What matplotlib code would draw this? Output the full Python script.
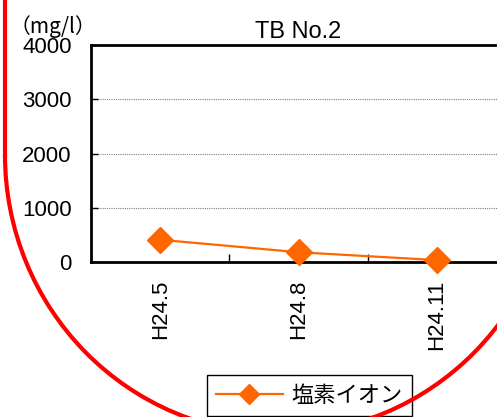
import numpy as np
import matplotlib
matplotlib.use("Agg")
from matplotlib import pyplot as plt
from matplotlib.patches import Arc
from matplotlib.lines import Line2D

# data
categories = ["H24.5", "H24.8", "H24.11"]
chloride = [410, 180, 35]
series_name = "塩素イオン"
y_ticks = [0, 1000, 2000, 3000, 4000]

plt.rcParams['font.family'] = ['Liberation Sans', 'Noto Sans CJK JP', 'DejaVu Sans']

W, H = 497, 417
fig = plt.figure(figsize=(W / 100, H / 100), dpi=100)

# axes runs past the right edge, as in the reference
ax = fig.add_axes([91 / W, (H - 262) / H, (506 - 91) / W, (262 - 45) / H])
x = np.arange(len(categories))
ax.plot(x, chloride, color="#FF6600", lw=1.6, marker="D", markersize=13,
        label=series_name, clip_on=False, zorder=3)

ax.set_xlim(-0.5, len(categories) - 0.5)
ax.set_ylim(0, 4000)
ax.set_yticks(y_ticks)
ax.set_yticklabels([str(v) for v in y_ticks], fontsize=16)
ax.set_xticks(x)
ax.set_xticklabels(categories, rotation=90, fontsize=16)
ax.tick_params(axis="x", which="major", length=0, pad=13)
ax.set_xticks(x[:-1] + 0.5, minor=True)
ax.tick_params(axis="x", which="minor", direction="in", length=6, width=1)
ax.tick_params(axis="y", direction="in", length=5, width=1, pad=14)
ax.grid(axis="y", color="#808080", ls=(0, (1, 1)), lw=0.8)
for s in ax.spines.values():
    s.set_linewidth(2)
ax.spines["right"].set_visible(False)

ax.set_title("TB No.2", fontsize=17, pad=5)
fig.text(10 / W, 1 - 27 / H, "（mg/l）", fontsize=15, va="center", ha="left",
         family=['Noto Sans CJK JP', 'DejaVu Sans'])

leg = fig.legend(loc="upper center", bbox_to_anchor=(309.5 / W, 1 - 375 / H),
                 prop={'family': ['Noto Sans CJK JP', 'DejaVu Sans'], 'size': 16},
                 fancybox=False, edgecolor="black", framealpha=1,
                 handlelength=3.0, borderpad=0.4, borderaxespad=0,
                 handletextpad=0.4, markerscale=0.8)
leg.get_frame().set_linewidth(1)

# red U-shaped outline: straight sides on top, half ellipse below
cx, cy, a, b = 280, 155, 275, 279
red = dict(color="#FF0000", lw=3, zorder=10)
fig.add_artist(Arc((cx / W, 1 - cy / H), 2 * a / W, 2 * b / H, theta1=180, theta2=360,
                   transform=fig.transFigure, **red))
for xe in (cx - a, cx + a):
    fig.add_artist(Line2D([xe / W, xe / W], [1 - cy / H, 1.05],
                          transform=fig.transFigure, **red))

fig.savefig("out.png", dpi=100)
